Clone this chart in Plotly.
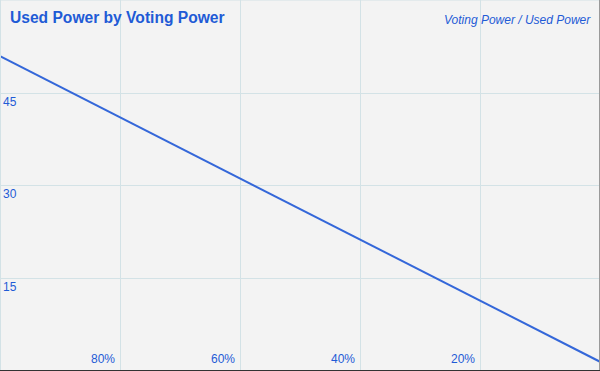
import plotly.graph_objects as go

voting_power = [100, 80, 60, 40, 20, 0]
used_power = [51.0, 41.1, 31.2, 21.3, 11.4, 1.5]
y_ticks = [15, 30, 45]
x_ticks = [80, 60, 40, 20]
x_tick_labels = ["80%", "60%", "40%", "20%"]

blue = "#1f5bd6"
grid = "#d3e2e6"

fig = go.Figure()
fig.add_trace(go.Scatter(x=voting_power, y=used_power, mode="lines",
                         line=dict(color="#3467d9", width=2), hoverinfo="skip"))

fig.update_layout(
    width=600, height=371,
    margin=dict(l=0, r=0, t=0, b=0),
    paper_bgcolor="#f3f3f3", plot_bgcolor="#f3f3f3",
    showlegend=False,
    font=dict(family="Liberation Sans, Arial, sans-serif", color=blue, size=12),
    xaxis=dict(range=[100, 0], tickvals=x_ticks, ticktext=x_tick_labels,
               ticklabelposition="inside left", showgrid=True, gridcolor=grid,
               gridwidth=1, zeroline=False, showline=False, ticks="",
               tickfont=dict(size=12, color=blue), ticklabelstandoff=0,
               ticklabelshift=5),
    yaxis=dict(range=[0, 60.1], tickvals=y_ticks, ticklabelposition="inside bottom",
               showgrid=True, gridcolor=grid, gridwidth=1, zeroline=False,
               showline=False, ticks="", tickfont=dict(size=12, color=blue)),
    annotations=[
        dict(text="<b>Used Power by Voting Power</b>", xref="paper", yref="paper",
             x=0, y=1, xanchor="left", yanchor="top", xshift=8, yshift=-7,
             showarrow=False, font=dict(size=15.6, color=blue)),
        dict(text="<i>Voting Power / Used Power</i>", xref="paper", yref="paper",
             x=1, y=1, xanchor="right", yanchor="top", xshift=-7, yshift=-11,
             showarrow=False, font=dict(size=12, color=blue)),
    ],
    shapes=[
        dict(type="line", xref="paper", yref="paper", x0=0, x1=1, y0=1, y1=1,
             line=dict(color=grid, width=1)),
        dict(type="line", xref="paper", yref="paper", x0=0, x1=0, y0=0, y1=1,
             line=dict(color=grid, width=2)),
        dict(type="line", xref="paper", yref="paper", x0=1, x1=1, y0=0, y1=1,
             line=dict(color="#9a9a9a", width=2)),
        dict(type="line", xref="paper", yref="paper", x0=0, x1=1, y0=0, y1=0,
             line=dict(color="#333333", width=2)),
    ],
)

fig.write_html("out.html", config={"displayModeBar": False},
               post_script="document.body.style.margin='0';document.body.style.overflow='hidden';")
